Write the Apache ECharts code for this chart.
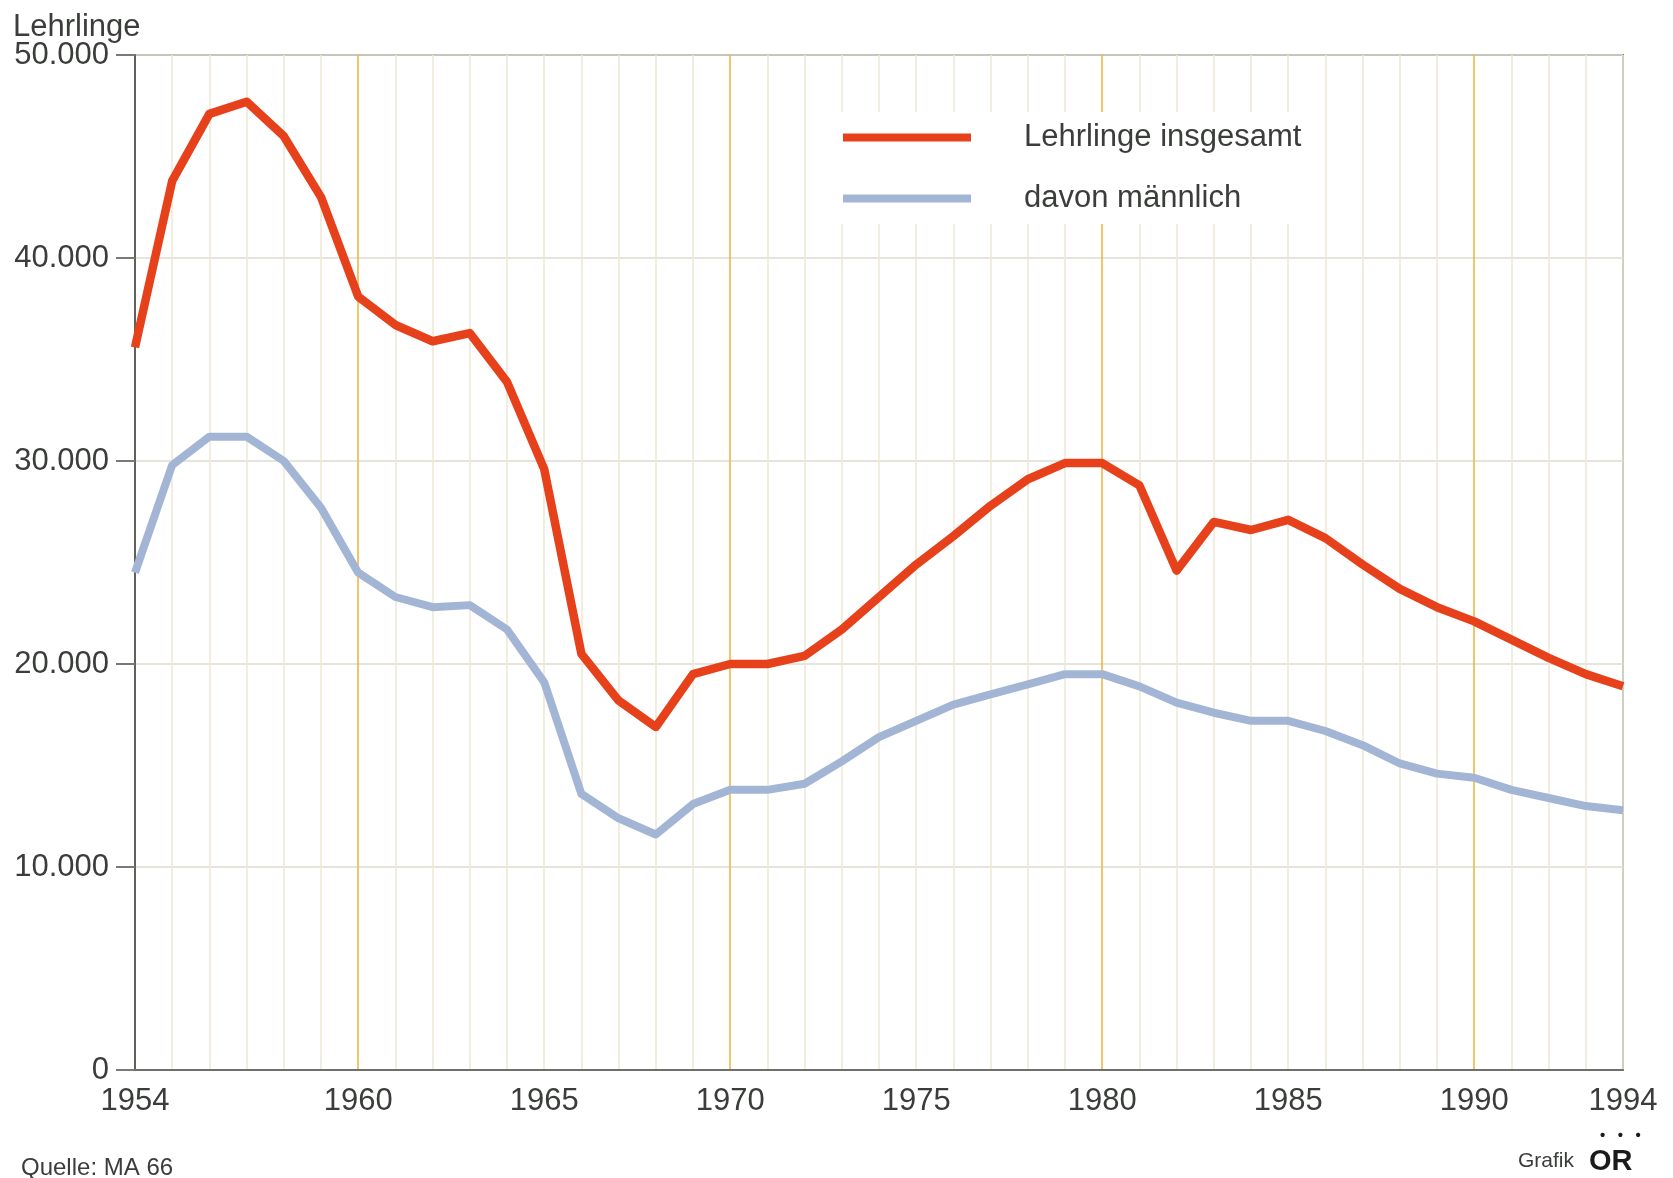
<!DOCTYPE html>
<html>
<head>
<meta charset="utf-8">
<title>Lehrlinge 1954–1994</title>
<script src="https://cdn.jsdelivr.net/npm/echarts@6.0.0/dist/echarts.min.js"></script>
<style>
  html, body { margin: 0; padding: 0; background: #fff; }
  #chart { width: 1673px; height: 1178px; }
</style>
</head>
<body>
<div id="chart"></div>
<script>
// Jahre (x-Achse)
const years = [
  1954, 1955, 1956, 1957, 1958, 1959, 1960, 1961, 1962, 1963,
  1964, 1965, 1966, 1967, 1968, 1969, 1970, 1971, 1972, 1973,
  1974, 1975, 1976, 1977, 1978, 1979, 1980, 1981, 1982, 1983,
  1984, 1985, 1986, 1987, 1988, 1989, 1990, 1991, 1992, 1993, 1994
];
// beschriftete Jahre unter der Achse
const labeledYears = [1954, 1960, 1965, 1970, 1975, 1980, 1985, 1990, 1994];

// Lehrlinge insgesamt
const totalValues = [
  35600, 43800, 47100, 47700, 46000, 43000, 38100, 36700, 35900, 36300,
  33900, 29600, 20500, 18200, 16900, 19500, 20000, 20000, 20400, 21700,
  23300, 24900, 26300, 27800, 29100, 29900, 29900, 28800, 24600, 27000,
  26600, 27100, 26200, 24900, 23700, 22800, 22100, 21200, 20300, 19500, 18900
];
// davon männlich
const maleValues = [
  24500, 29800, 31200, 31200, 30000, 27700, 24500, 23300, 22800, 22900,
  21700, 19100, 13600, 12400, 11600, 13100, 13800, 13800, 14100, 15200,
  16400, 17200, 18000, 18500, 19000, 19500, 19500, 18900, 18100, 17600,
  17200, 17200, 16700, 16000, 15100, 14600, 14400, 13800, 13400, 13000, 12800
];

const FONT = '"Liberation Sans", Arial, Helvetica, sans-serif';
const TEXT_COLOR = '#3a3d3a';

// jede 10. Linie (1960, 1970, ...) orange, sonst blass
const yearLineColors = ['#ece9d6', '#ece9d6', '#ece9d6', '#ece9d6', '#ece9d6',
  '#ece9d6', '#efb23a', '#ece9d6', '#ece9d6', '#ece9d6'];

const chart = echarts.init(document.getElementById('chart'));

const option = {
  backgroundColor: '#fff',
  animation: false,
  textStyle: { fontFamily: FONT },
  title: {
    text: 'Lehrlinge',
    left: 8,
    top: 7,
    textStyle: { fontFamily: FONT, fontSize: 31, fontWeight: 'normal', color: TEXT_COLOR }
  },
  grid: {
    left: 135,
    right: 50,
    top: 55,
    bottom: 108,
    show: true,
    borderColor: '#7e807c',
    borderWidth: 2,
    outerBoundsMode: 'none'
  },
  legend: {
    orient: 'vertical',
    left: 838,
    top: 112,
    padding: [10, 20, 10, 5],
    backgroundColor: '#fff',
    itemWidth: 128,
    itemHeight: 8,
    itemGap: 30,
    icon: 'rect',
    textStyle: {
      fontFamily: FONT,
      fontSize: 31,
      color: TEXT_COLOR,
      padding: [0, 0, 0, 48]
    },
    data: ['Lehrlinge insgesamt', 'davon männlich']
  },
  xAxis: {
    type: 'value',
    min: 1954,
    max: 1994,
    interval: 1,
    axisLine: { show: true, lineStyle: { color: '#6e706c', width: 2 } },
    axisTick: { show: false },
    axisLabel: {
      margin: 16,
      fontFamily: FONT,
      fontSize: 31,
      color: TEXT_COLOR,
      formatter: v => labeledYears.includes(v) ? String(v) : ''
    },
    splitLine: {
      show: true,
      lineStyle: { color: yearLineColors, width: 1.5 }
    }
  },
  yAxis: {
    type: 'value',
    min: 0,
    max: 50000,
    interval: 10000,
    axisLine: { show: true, lineStyle: { color: '#5f615d', width: 2 } },
    axisTick: { show: true, length: 19, lineStyle: { color: '#777a75', width: 2 } },
    axisLabel: {
      margin: 26,
      fontFamily: FONT,
      fontSize: 31,
      color: TEXT_COLOR,
      formatter: v => v === 0 ? '0' : (v / 1000) + '.000'
    },
    splitLine: { show: true, lineStyle: { color: '#dcdcd2', width: 1.5 } }
  },
  series: [
    {
      name: 'Lehrlinge insgesamt',
      type: 'line',
      symbol: 'none',
      color: '#e6411b',
      lineStyle: { width: 8.5, color: '#e6411b', join: 'round' },
      data: years.map((y, i) => [y, totalValues[i]]),
      z: 3
    },
    {
      name: 'davon männlich',
      type: 'line',
      symbol: 'none',
      color: '#a3b5d5',
      lineStyle: { width: 8, color: '#a3b5d5', join: 'round' },
      data: years.map((y, i) => [y, maleValues[i]]),
      z: 2
    }
  ],
  graphic: [
    {
      type: 'text',
      left: 21,
      top: 1156,
      style: { text: 'Quelle: MA 66', fontFamily: FONT, fontSize: 24, fill: TEXT_COLOR }
    },
    {
      type: 'text',
      left: 1518,
      top: 1151,
      style: { text: 'Grafik', fontFamily: FONT, fontSize: 21, fill: TEXT_COLOR }
    },
    {
      type: 'text',
      left: 1589,
      top: 1147,
      style: { text: 'OR', fontFamily: FONT, fontSize: 29, fontWeight: 900, fill: '#1a1a1a' }
    },
    {
      type: 'text',
      left: 1600,
      top: 1128,
      style: { text: '•   •   •', fontFamily: FONT, fontSize: 15, fontWeight: 'bold', fill: '#1a1a1a' }
    }
  ]
};

chart.setOption(option);
</script>
</body>
</html>
